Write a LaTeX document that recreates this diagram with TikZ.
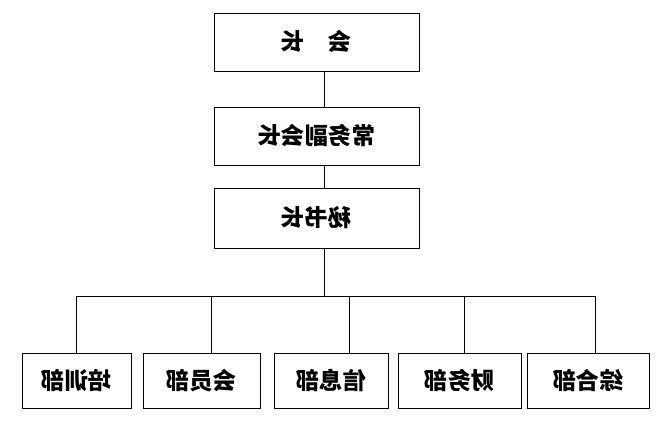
\documentclass[tikz,border=0pt]{standalone}
\usepackage{fontspec}
\newfontfamily\cjk{Noto Sans CJK SC}[BoldFont={Noto Sans CJK SC Black}]

\begin{document}
\begin{tikzpicture}[x=0.03cm,y=-0.03cm,
  line width=.8pt,
  unit/.style={draw,inner sep=0pt,font=\cjk\bfseries\fontsize{20}{20}\selectfont},
  lead/.style={unit,minimum width=6.15cm,minimum height=1.74cm},
  dept/.style={unit,minimum height=1.65cm}
]
  \useasboundingbox (0,0) rectangle (667,422);
  % leadership column (the reference is mirrored left to right)
  \node[lead] (head) at (316.5,42) {\reflectbox{会\hspace{1em}长}};
  \node[lead] (deputy) at (316.5,136) {\reflectbox{常务副会长}};
  \node[lead,minimum height=1.8cm] (sec) at (316.5,218) {\reflectbox{秘书长}};
  \coordinate (trunk) at (324,296);
  \draw (head.south -| trunk) -- (deputy.north -| trunk);
  \draw (deputy.south -| trunk) -- (sec.north -| trunk);
  \draw (sec.south -| trunk) -- (trunk);

  % departments
  \coordinate (busl) at (76,296);
  \coordinate (busr) at (595,296);
  \draw (busl) -- (busr);
  \foreach \name/\cx/\w/\dx/\txt in {px/76.5/109/76/培训部,
      hy/201.5/117/211/会员部, xx/331/114/349/信息部,
      cw/459.5/123/464/财务部, zh/588/122/595/综合部}{
    \node[dept,minimum width=\w*0.03cm] (\name) at (\cx,380.5)
      {\reflectbox{\txt}};
    \coordinate (\name top) at (\dx,296);
    \draw (\name top) -- (\name top |- \name.north);
  }
\end{tikzpicture}
\end{document}
